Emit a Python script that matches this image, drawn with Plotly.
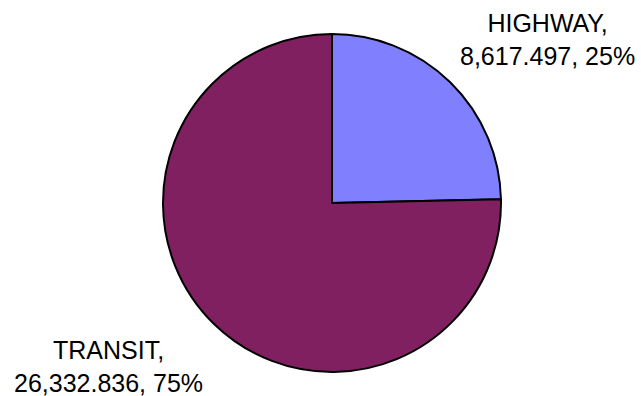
import plotly.graph_objects as go

# Funding split by mode
categories = ["HIGHWAY", "TRANSIT"]
values = [8617.497, 26332.836]
colors = ["#8080FF", "#802060"]

W, H = 641, 396
cx, cy, r = 332, 203, 169

total = sum(values)

fig = go.Figure(go.Pie(
    labels=categories,
    values=values,
    sort=False,
    direction="clockwise",
    rotation=0,
    textinfo="none",
    hoverinfo="label+value+percent",
    marker=dict(colors=colors, line=dict(color="black", width=2)),
    domain=dict(x=[(cx - r) / W, (cx + r) / W], y=[1 - (cy + r) / H, 1 - (cy - r) / H]),
    showlegend=False,
))

# Outside labels: "NAME,<br>value, pct%"
label_pos = {"HIGHWAY": (547, 40), "TRANSIT": (108, 366)}
for cat, val in zip(categories, values):
    px, py = label_pos[cat]
    fig.add_annotation(
        x=px / W, y=1 - py / H, xref="paper", yref="paper",
        text=f"{cat},<br>{val:,.3f}, {round(val / total * 100):.0f}%",
        showarrow=False, align="center", xanchor="center", yanchor="middle",
        font=dict(family="Liberation Sans, Arial", size=25, color="black"),
    )

fig.update_layout(
    width=W, height=H,
    margin=dict(l=0, r=0, t=0, b=0),
    paper_bgcolor="white", plot_bgcolor="white",
)

fig.write_html("out.html")
